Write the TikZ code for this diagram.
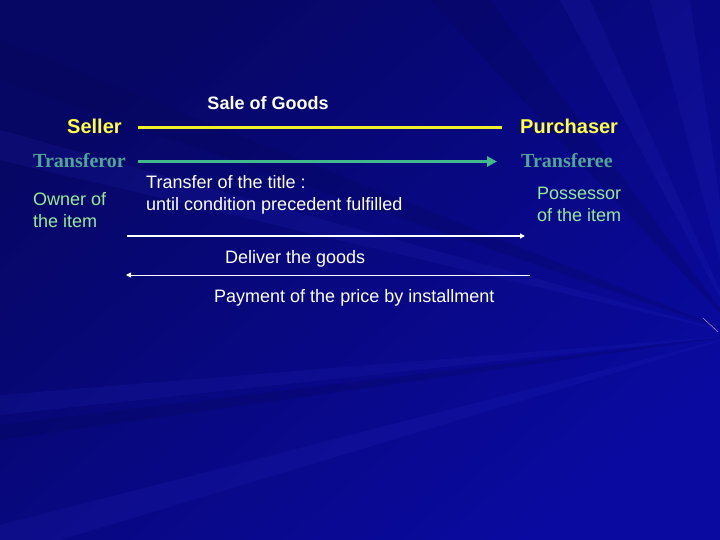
\documentclass[tikz,border=0pt]{standalone}
\usepackage{fontspec}
\setmainfont{Liberation Sans}
\newfontfamily\romanfont{Liberation Serif}
\usetikzlibrary{arrows.meta}
\definecolor{bgdark}{RGB}{6,6,85}
\definecolor{bgmid}{RGB}{10,10,160}
\definecolor{bglight}{RGB}{45,45,205}
\definecolor{lineyellow}{RGB}{240,240,40}
\definecolor{textyellow}{RGB}{255,255,70}
\definecolor{tealtext}{RGB}{80,165,150}
\definecolor{arrowgreen}{RGB}{65,185,140}
\definecolor{ownergreen}{RGB}{150,235,150}
\tikzset{
  party/.style={font=\fontsize{20}{24}\selectfont\bfseries, text=textyellow, inner sep=0pt},
  role/.style={font=\fontsize{20}{24}\selectfont\romanfont\bfseries, text=tealtext, inner sep=0pt},
  holder/.style={font=\fontsize{18}{22}\selectfont, text=ownergreen, inner sep=0pt, align=left},
  plain/.style={font=\fontsize{18}{22}\selectfont, text=white, inner sep=0pt, align=left},
  ray/.style={fill=bglight, opacity=0.14},
  shadow/.style={fill=bgdark, opacity=0.25}
}

\begin{document}
\begin{tikzpicture}[x=1pt,y=-1pt]
\useasboundingbox (0,0) rectangle (720,540);
% Background
\fill[bgmid] (0,0) rectangle (720,540);
\shade[top color=bgdark, bottom color=bgmid, shading angle=40, opacity=0.8] (0,0) rectangle (720,540);
\coordinate (focus) at (740,335);
\fill[ray] (focus) -- (560,0) -- (590,0) -- cycle;
\fill[ray] (focus) -- (650,0) -- (690,0) -- cycle;
\fill[ray] (focus) -- (0,130) -- (0,160) -- cycle;
\fill[ray] (focus) -- (0,395) -- (0,415) -- cycle;
\fill[ray] (focus) -- (0,525) -- (0,540) -- (60,540) -- cycle;
\fill[shadow] (focus) -- (0,425) -- (0,440) -- cycle;
\fill[shadow] (focus) -- (0,40) -- (0,80) -- cycle;
\fill[shadow] (focus) -- (430,0) -- (490,0) -- cycle;
\draw[white!70!violet, thin] (703,318) -- (718,332);
% Nodes
\node[plain, font=\fontsize{18}{22}\selectfont\bfseries, anchor=base] (sale) at (268,110) {Sale of Goods};
\node[party, anchor=base west] (seller) at (67,134) {Seller};
\node[party, anchor=base west] (purchaser) at (520,134) {Purchaser};
\node[role, anchor=base west] (transferor) at (33,168) {Transferor};
\node[role, anchor=base west] (transferee) at (521,168) {Transferee};
\node[holder, anchor=base west] (owner) at (33,227.5) {Owner of\\the item};
\node[holder, anchor=base west] (possessor) at (537,221.5) {Possessor\\of the item};
\node[plain, anchor=base west] (title) at (146,211) {Transfer of the title :\\until condition precedent fulfilled};
\node[plain, anchor=base west] (deliver) at (225,263) {Deliver the goods};
\node[plain, anchor=base west] (payment) at (214,302) {Payment of the price by installment};
% Lines
\coordinate (sellA) at (138,128);
\coordinate (sellB) at (502,128);
\coordinate (titleA) at (138,161.5);
\coordinate (titleB) at (497,161.5);
\coordinate (goodsA) at (127,236);
\coordinate (goodsB) at (525,236);
\coordinate (payA) at (530,275);
\coordinate (payB) at (126,275);
\draw[lineyellow, line width=3pt] (sellA) -- (sellB);
\draw[arrowgreen, line width=3.5pt, -{Triangle[length=10pt, width=10pt]}] (titleA) -- (titleB);
\draw[white, line width=1.8pt, -{Triangle[length=5pt, width=5pt]}] (goodsA) -- (goodsB);
\draw[white, line width=0.9pt, -{Triangle[length=5pt, width=5pt]}] (payA) -- (payB);
\end{tikzpicture}
\end{document}
